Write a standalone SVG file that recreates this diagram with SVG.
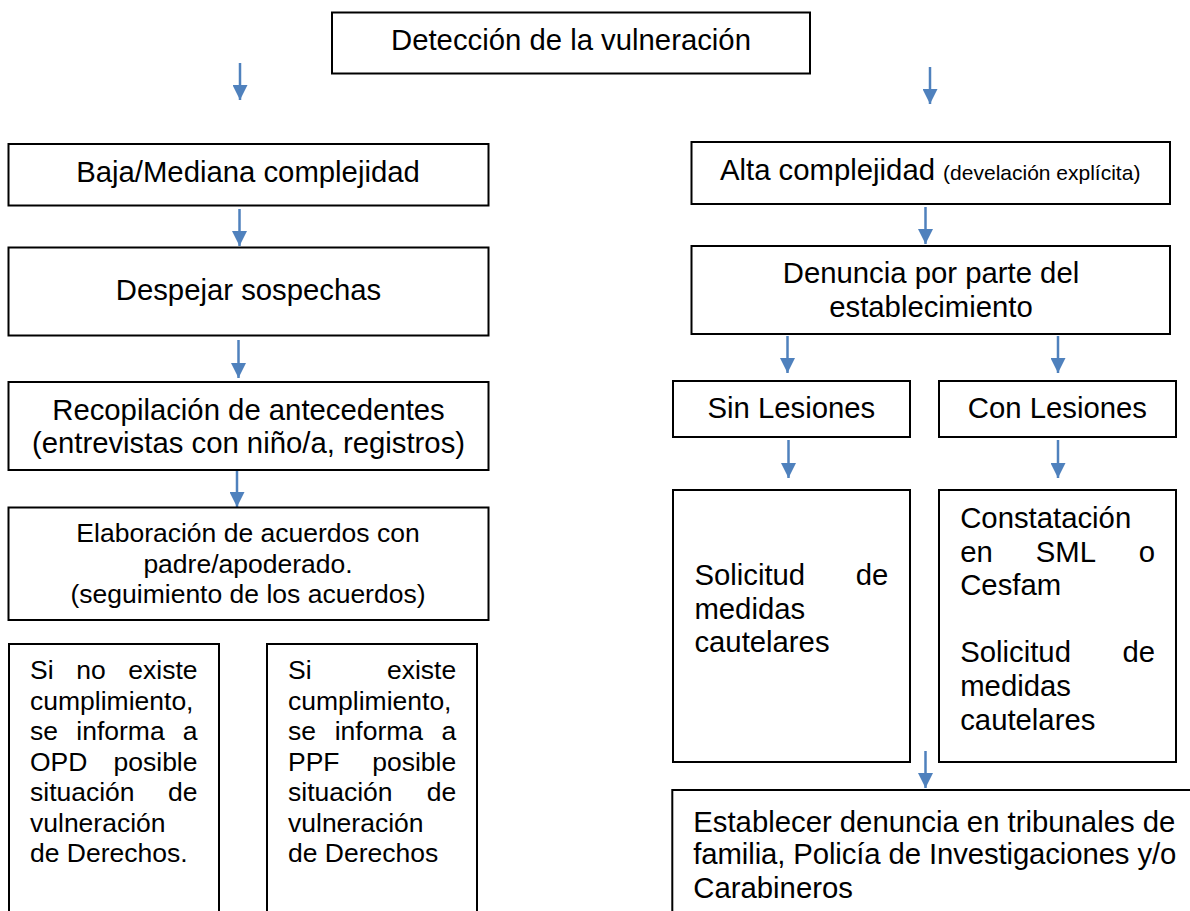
<svg xmlns="http://www.w3.org/2000/svg" width="1190" height="911" viewBox="0 0 1190 911">
<style>
.box{fill:#fff;stroke:#000;stroke-width:2}
.t{font-family:"Liberation Sans",Arial,sans-serif;font-size:29.3px;fill:#000}
.m{font-size:26.5px}
.s{font-size:21px}
.c{text-anchor:middle}
.e{text-anchor:end}
.arr{stroke:#4F81BD;stroke-width:2.5;fill:none;marker-end:url(#ah)}
</style>
<defs>
<marker id="ah" viewBox="0 0 15 15" refX="15" refY="7.5" markerWidth="15" markerHeight="15" markerUnits="userSpaceOnUse" orient="auto">
<path d="M0,0 L15,7.5 L0,15 z" fill="#4F81BD"/>
</marker>
</defs>
<rect width="1190" height="911" fill="#fff"/>

<g id="connectors">
<line class="arr" x1="240" y1="63" x2="240" y2="100"/>
<line class="arr" x1="930" y1="67" x2="930" y2="104"/>
<line class="arr" x1="239.5" y1="209" x2="239.5" y2="246"/>
<line class="arr" x1="925.5" y1="207" x2="925.5" y2="244"/>
<line class="arr" x1="238.5" y1="340" x2="238.5" y2="378"/>
<line class="arr" x1="237" y1="470" x2="237" y2="507"/>
<line class="arr" x1="787.5" y1="336" x2="787.5" y2="373"/>
<line class="arr" x1="1058" y1="336" x2="1058" y2="373"/>
<line class="arr" x1="788.5" y1="440" x2="788.5" y2="478"/>
<line class="arr" x1="1058" y1="440" x2="1058" y2="478"/>
<line class="arr" x1="925.5" y1="751" x2="925.5" y2="788"/>
</g>

<g id="deteccion">
<rect class="box" x="332" y="12.5" width="478" height="61"/>
<text class="t c" x="571" y="50">Detección de la vulneración</text>
</g>

<g id="baja">
<rect class="box" x="8.5" y="144" width="480" height="61.5"/>
<text class="t c" x="248" y="181.7">Baja/Mediana complejidad</text>
</g>

<g id="despejar">
<rect class="box" x="8.5" y="247.5" width="480" height="88"/>
<text class="t c" x="248.5" y="300">Despejar sospechas</text>
</g>

<g id="recopilacion">
<rect class="box" x="8.5" y="382" width="480" height="88"/>
<text class="t c" x="248.5" y="420">Recopilación de antecedentes</text>
<text class="t c" x="248.5" y="453.3">(entrevistas con niño/a, registros)</text>
</g>

<g id="elaboracion">
<rect class="box" x="8.5" y="507.5" width="480" height="112.5"/>
<text class="t m c" x="248" y="542.3">Elaboración de acuerdos con</text>
<text class="t m c" x="248" y="572.5">padre/apoderado.</text>
<text class="t m c" x="248" y="602.7">(seguimiento de los acuerdos)</text>
</g>

<g id="opd">
<rect class="box" x="9" y="644" width="210" height="290"/>
<text class="t m"><tspan x="30" y="679.3">Si</tspan><tspan x="76.3" y="679.3">no</tspan><tspan class="e" x="197.5" y="679.3">existe</tspan></text>
<text class="t m" x="30" y="709.8">cumplimiento,</text>
<text class="t m"><tspan x="30" y="740.3">se</tspan><tspan x="76.3" y="740.3">informa</tspan><tspan class="e" x="197.5" y="740.3">a</tspan></text>
<text class="t m"><tspan x="30" y="770.8">OPD</tspan><tspan class="e" x="197.5" y="770.8">posible</tspan></text>
<text class="t m"><tspan x="30" y="801.3">situación</tspan><tspan class="e" x="197.5" y="801.3">de</tspan></text>
<text class="t m" x="30" y="831.8">vulneración</text>
<text class="t m" x="30" y="862.3">de Derechos.</text>
</g>

<g id="ppf">
<rect class="box" x="267" y="644" width="210" height="290"/>
<text class="t m"><tspan x="288" y="679.3">Si</tspan><tspan class="e" x="456.2" y="679.3">existe</tspan></text>
<text class="t m" x="288" y="709.8">cumplimiento,</text>
<text class="t m"><tspan x="288" y="740.3">se</tspan><tspan x="334.7" y="740.3">informa</tspan><tspan class="e" x="456.2" y="740.3">a</tspan></text>
<text class="t m"><tspan x="288" y="770.8">PPF</tspan><tspan class="e" x="456.2" y="770.8">posible</tspan></text>
<text class="t m"><tspan x="288" y="801.3">situación</tspan><tspan class="e" x="456.2" y="801.3">de</tspan></text>
<text class="t m" x="288" y="831.8">vulneración</text>
<text class="t m" x="288" y="862.3">de Derechos</text>
</g>

<g id="alta">
<rect class="box" x="691.5" y="142" width="478.5" height="62"/>
<text class="t" x="720" y="180">Alta complejidad <tspan class="s">(develación explícita)</tspan></text>
</g>

<g id="denuncia">
<rect class="box" x="691.5" y="246" width="478.5" height="88"/>
<text class="t c" x="931" y="283.3">Denuncia por parte del</text>
<text class="t c" x="931" y="316.7">establecimiento</text>
</g>

<g id="sin">
<rect class="box" x="673" y="381" width="237" height="56"/>
<text class="t c" x="791.4" y="418.3">Sin Lesiones</text>
</g>

<g id="con">
<rect class="box" x="939" y="381" width="237" height="56"/>
<text class="t c" x="1057.4" y="418.3">Con Lesiones</text>
</g>

<g id="solicitud">
<rect class="box" x="673" y="490" width="237" height="272"/>
<text class="t"><tspan x="694.4" y="585">Solicitud</tspan><tspan class="e" x="888.3" y="585">de</tspan></text>
<text class="t" x="694.4" y="618.5">medidas</text>
<text class="t" x="694.4" y="652">cautelares</text>
</g>

<g id="constatacion">
<rect class="box" x="939" y="490" width="237" height="272"/>
<text class="t" x="960.2" y="528.3">Constatación</text>
<text class="t"><tspan x="960.2" y="561.7">en</tspan><tspan x="1035.8" y="561.7">SML</tspan><tspan class="e" x="1155" y="561.7">o</tspan></text>
<text class="t" x="960.2" y="595">Cesfam</text>
<text class="t"><tspan x="960.2" y="662.3">Solicitud</tspan><tspan class="e" x="1155" y="662.3">de</tspan></text>
<text class="t" x="960.2" y="696">medidas</text>
<text class="t" x="960.2" y="729.5">cautelares</text>
</g>

<g id="establecer">
<rect class="box" x="672.3" y="790" width="540" height="150"/>
<text class="t" x="693.3" y="831.7" textLength="482" lengthAdjust="spacing">Establecer denuncia en tribunales de</text>
<text class="t" x="693.3" y="864.3" textLength="483" lengthAdjust="spacing">familia, Policía de Investigaciones y/o</text>
<text class="t" x="693.3" y="897.7">Carabineros</text>
</g>
</svg>
